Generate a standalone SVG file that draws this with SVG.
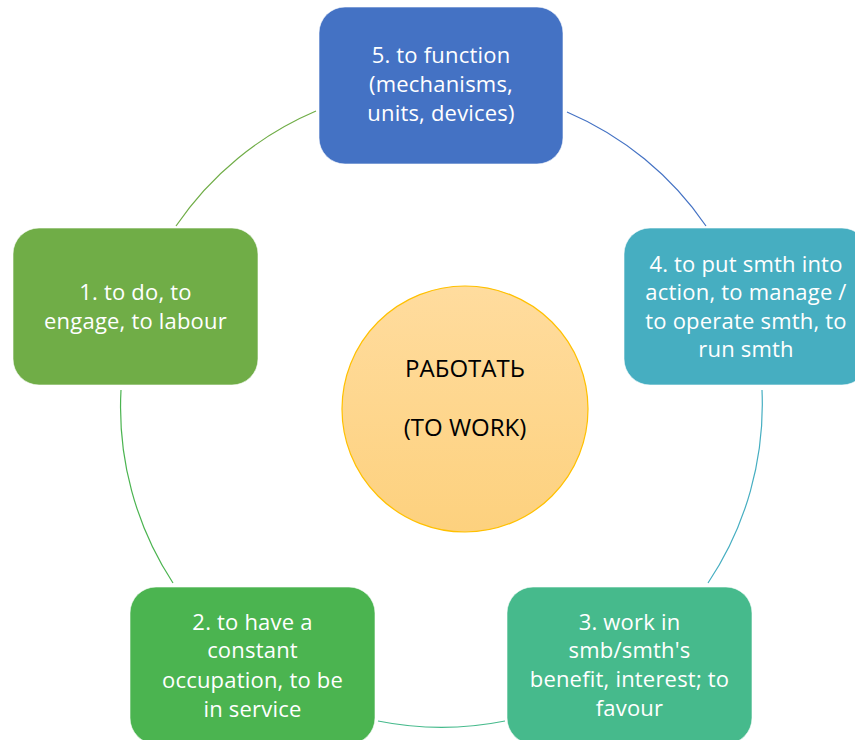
<svg xmlns="http://www.w3.org/2000/svg" width="855" height="740" viewBox="0 0 855 740">
<defs>
<linearGradient id="cg" x1="0" y1="0" x2="0" y2="1">
<stop offset="0" stop-color="#FFDC9E"/>
<stop offset="1" stop-color="#FDD17E"/>
</linearGradient>
<style>
.box{stroke:#ffffff;stroke-opacity:0.6;stroke-width:1}
.t{font-family:"Open Sans","Noto Sans",sans-serif;font-size:22px;letter-spacing:0.2px;fill:#ffffff;text-anchor:middle}
.c{font-family:"Open Sans","Noto Sans",sans-serif;font-size:24px;fill:#000000;text-anchor:middle}
.arc{fill:none;stroke-width:1.2}
</style>
</defs>
<rect width="855" height="740" fill="#ffffff"/>
<g id="connectors">
<path class="arc" stroke="#70AD47" d="M176,226 A321,321 0 0 1 316,111"/>
<path class="arc" stroke="#4472C4" d="M567,112 A321,321 0 0 1 706,226"/>
<path class="arc" stroke="#46AEC1" d="M762,390 A321,321 0 0 1 708,583"/>
<path class="arc" stroke="#46BA8C" d="M505,721 A321,321 0 0 1 378,721"/>
<path class="arc" stroke="#4BB450" d="M173,583 A321,321 0 0 1 121,390"/>
</g>
<g id="center">
<circle cx="465" cy="409" r="123" fill="url(#cg)" stroke="#FFC000" stroke-width="1.2"/>
<text class="c" x="465" y="377">РАБОТАТЬ</text>
<text class="c" x="465" y="436">(TO WORK)</text>
</g>
<g id="node5">
<rect class="box" x="319" y="7" width="244" height="157" rx="26" fill="#4472C4"/>
<text class="t" x="441" y="63">5. to function</text>
<text class="t" x="441" y="92">(mechanisms,</text>
<text class="t" x="441" y="121">units, devices)</text>
</g>
<g id="node4">
<rect class="box" x="624" y="228" width="244" height="157" rx="26" fill="#46AEC1"/>
<text class="t" x="746" y="272">4. to put smth into</text>
<text class="t" x="746" y="300">action, to manage /</text>
<text class="t" x="746" y="329">to operate smth, to</text>
<text class="t" x="746" y="357">run smth</text>
</g>
<g id="node3">
<rect class="box" x="507" y="587" width="245" height="157" rx="26" fill="#46BA8C"/>
<text class="t" x="629.5" y="630">3. work in</text>
<text class="t" x="629.5" y="658">smb/smth's</text>
<text class="t" x="629.5" y="687">benefit, interest; to</text>
<text class="t" x="629.5" y="716">favour</text>
</g>
<g id="node2">
<rect class="box" x="130" y="587" width="245" height="157" rx="26" fill="#4BB450"/>
<text class="t" x="252.5" y="630">2. to have a</text>
<text class="t" x="252.5" y="658">constant</text>
<text class="t" x="252.5" y="688">occupation, to be</text>
<text class="t" x="252.5" y="717">in service</text>
</g>
<g id="node1">
<rect class="box" x="13" y="228" width="245" height="157" rx="26" fill="#70AD47"/>
<text class="t" x="135.5" y="300">1. to do, to</text>
<text class="t" x="135.5" y="329">engage, to labour</text>
</g>
</svg>
